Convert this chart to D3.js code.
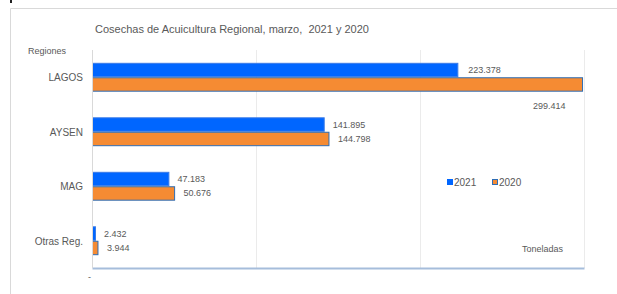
<!DOCTYPE html>
<html><head><meta charset="utf-8">
<script src="https://cdn.jsdelivr.net/npm/d3@7"></script>
<style>body{margin:0;background:#fff;} svg{display:block;font-family:"Liberation Sans",Arial,sans-serif;}</style>
</head><body>
<svg id="c" width="617" height="294"></svg>
<script>
const categories = ["LAGOS","AYSEN","MAG","Otras Reg."];
const series = ["2021","2020"];
const values2021 = [223.378, 141.895, 47.183, 2.432];
const values2020 = [299.414, 144.798, 50.676, 3.944];
const xTicks = [0, 100, 200, 300];
const title = "Cosechas de Acuicultura Regional, marzo,  2021 y 2020";

const colors = {"2021":"#0066ff","2020":"#f58b33"};
const strokes = {"2021":"#3a7be8","2020":"#2e6db4"};
const textCol = "#595959";

const svg = d3.select("#c");
// outer frame
svg.append("line").attr("x1",10.5).attr("x2",617).attr("y1",8.5).attr("y2",8.5).attr("stroke","#d9d9d9");
svg.append("line").attr("x1",10.5).attr("x2",10.5).attr("y1",8.5).attr("y2",294).attr("stroke","#d9d9d9");
svg.append("rect").attr("x",10).attr("y",0).attr("width",2).attr("height",3).attr("fill","#222");

const x = d3.scaleLinear().domain([0,300]).range([92,584]);
const y = d3.scaleBand().domain(categories).range([50,268]).paddingInner(0.47).paddingOuter(0.235);
const ySub = d3.scaleBand().domain(series).range([0,y.bandwidth()]);

// gridlines
svg.append("g").selectAll("line").data(xTicks.slice(1)).join("line")
  .attr("x1",d=>Math.round(x(d))+0.5).attr("x2",d=>Math.round(x(d))+0.5)
  .attr("y1",50).attr("y2",268).attr("stroke","#ebebeb");

svg.append("text").attr("x",95).attr("y",33).attr("font-size",11).attr("fill",textCol)
  .style("white-space","pre").attr("xml:space","preserve").text(title);
svg.append("text").attr("x",28).attr("y",54).attr("font-size",9).attr("fill",textCol).text("Regiones");

const data = [];
categories.forEach((c,i)=>{
  data.push({c, s:"2021", v:values2021[i]});
  data.push({c, s:"2020", v:values2020[i]});
});

svg.append("g").selectAll("rect").data(data).join("rect")
  .attr("x",x(0)+0.5).attr("y",d=>y(d.c)+ySub(d.s)+0.5)
  .attr("width",d=>x(d.v)-x(0)-1).attr("height",ySub.bandwidth()-1)
  .attr("fill",d=>colors[d.s]).attr("stroke",d=>strokes[d.s]).attr("stroke-width",1);

// value labels
const fmt = v => v.toFixed(3);
svg.append("g").selectAll("text").data(data).join("text")
  .attr("x",d=> (d.c==="LAGOS" && d.s==="2020") ? x(d.v)-50 : x(d.v) + (d.c==="LAGOS"?10:(d.s==="2020"?8.5:8)))
  .attr("y",d=> (d.c==="LAGOS" && d.s==="2020") ? y(d.c)+ySub(d.s)+ySub.bandwidth()+17 : y(d.c)+ySub(d.s)+ySub.bandwidth()/2+3)
  .attr("font-size",9).attr("fill",textCol).text(d=>fmt(d.v));

// category axis labels
svg.append("g").selectAll("text").data(categories).join("text")
  .attr("x",83).attr("y",d=>y(d)+y.bandwidth()/2+4)
  .attr("text-anchor","end").attr("font-size",10).attr("fill",textCol).text(d=>d);

// bottom axis
const xAxis = d3.axisBottom(x).tickValues([0]).tickSize(0).tickFormat(()=>"-");
const ax = svg.append("g").attr("transform","translate(0,268)").call(xAxis);
ax.select(".domain").attr("stroke","#a6bddb").attr("stroke-width",2);
ax.selectAll("text").attr("font-size",9).attr("fill",textCol).attr("dy",0).attr("y",12).attr("x",-3)
  .attr("font-family","Liberation Sans, Arial, sans-serif");
svg.append("line").attr("x1",92.5).attr("x2",92.5).attr("y1",50).attr("y2",268).attr("stroke","#d9d9d9");

// legend
const lg = svg.append("g");
series.forEach((s,i)=>{
  const lx = 447 + i*45;
  lg.append("rect").attr("x",lx+0.5).attr("y",179.5).attr("width",5).attr("height",5)
    .attr("fill",colors[s]).attr("stroke",i===1?strokes[s]:colors[s]);
  lg.append("text").attr("x",lx+7).attr("y",186).attr("font-size",10).attr("fill",textCol).text(s);
});

svg.append("text").attr("x",522).attr("y",252).attr("font-size",9).attr("fill",textCol).text("Toneladas");
</script>
</body></html>
